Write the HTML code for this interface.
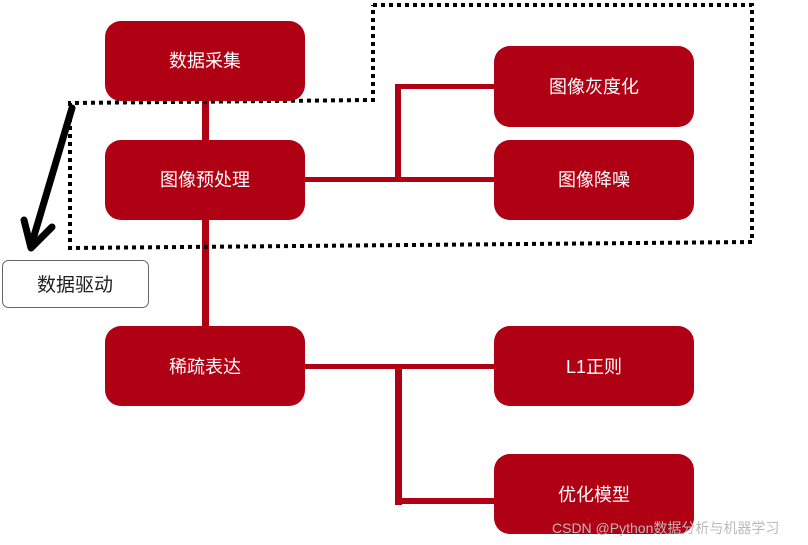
<!DOCTYPE html>
<html><head><meta charset="utf-8"><style>
html,body{margin:0;padding:0;background:#fff;}
svg{display:block;}
text{font-family:"Liberation Sans","Noto Sans CJK SC",sans-serif;}
</style></head><body>
<svg width="808" height="545" viewBox="0 0 808 545" xmlns="http://www.w3.org/2000/svg">
<g fill="#b00014" stroke="none">
<rect x="202" y="100" width="7" height="42"/>
<rect x="202" y="219" width="7" height="108"/>
<rect x="304" y="177" width="192" height="5"/>
<rect x="395" y="84" width="6" height="96"/>
<rect x="395" y="84" width="100" height="5"/>
<rect x="304" y="364" width="192" height="5"/>
<rect x="395" y="364" width="7" height="141"/>
<rect x="395" y="498" width="100" height="6"/>
</g>
<polyline points="373,5 752,5 752,242 70,248 70,103 373,100 373,5" fill="none" stroke="#000" stroke-width="4" stroke-dasharray="4,4"/>
<g fill="#b00014">
<rect x="105" y="21" width="200" height="80" rx="16"/>
<rect x="105" y="140" width="200" height="80" rx="16"/>
<rect x="105" y="326" width="200" height="80" rx="16"/>
<rect x="494" y="46" width="200" height="81" rx="16"/>
<rect x="494" y="140" width="200" height="80" rx="16"/>
<rect x="494" y="326" width="200" height="80" rx="16"/>
<rect x="494" y="454" width="200" height="80" rx="16"/>
</g>
<g fill="#fff" font-size="18" text-anchor="middle">
<text x="205" y="67">数据采集</text>
<text x="205" y="186">图像预处理</text>
<text x="205" y="373">稀疏表达</text>
<text x="594" y="93">图像灰度化</text>
<text x="594" y="186">图像降噪</text>
<text x="594" y="373">L1正则</text>
<text x="594" y="501">优化模型</text>
</g>
<g stroke="#000" stroke-width="7" fill="none" stroke-linecap="round" stroke-linejoin="round">
<line x1="72" y1="108" x2="31" y2="246"/>
<polyline points="24,220 31,248 52,227"/>
</g>
<rect x="2.5" y="260.5" width="146" height="47" rx="6" fill="#fff" stroke="#666" stroke-width="1"/>
<text x="75" y="291" font-size="19" text-anchor="middle" fill="#222">数据驱动</text>
<text x="552" y="533" font-size="14" fill="#bbb">CSDN @Python数据分析与机器学习</text>
</svg>
</body></html>
